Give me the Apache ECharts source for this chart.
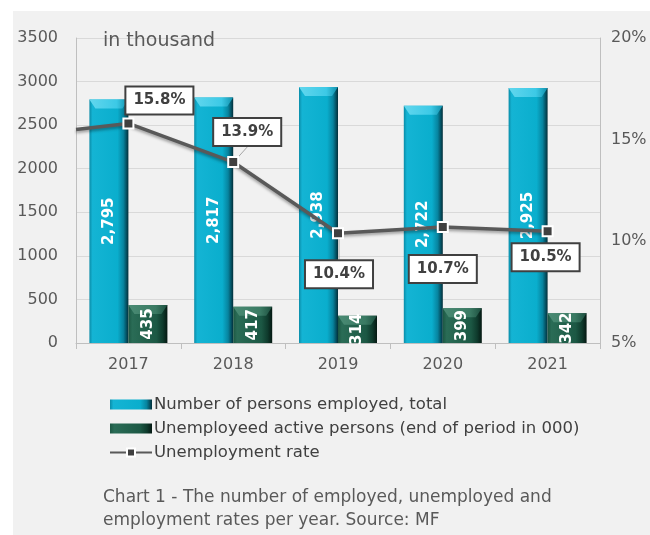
<!DOCTYPE html>
<html>
<head>
<meta charset="utf-8">
<script src="https://cdn.jsdelivr.net/npm/echarts@6/dist/echarts.min.js"></script>
<style>
  html, body { margin: 0; padding: 0; background: #ffffff; }
  #chart { width: 650px; height: 535px; }
</style>
</head>
<body>
<div id="chart"></div>
<script>
// Labour market figures per year (counts in thousand, rate in %)
const years = ['2017', '2018', '2019', '2020', '2021'];
const employed = [2795, 2817, 2938, 2722, 2925];
const unemployed = [435, 417, 314, 399, 342];
const rate = [15.8, 13.9, 10.4, 10.7, 10.5];
// rate carried in from the previous year at the left edge of the plot
const rateCarryIn = 15.5;

const leftTicks = { min: 0, max: 3500, interval: 500 };
const rightTicks = { min: 5, max: 20, interval: 5 };

const seriesNames = [
  'Number of persons employed, total',
  'Unemployeed active persons (end of period in 000)',
  'Unemployment rate'
];

// label box shifts for the rate callouts (px, relative to the point)
const calloutShift = [[31, -23], [14, -30], [1, 41], [0, 42], [-2, 26]];
// which callouts get a thin leader line back to their point
const calloutLeader = [false, true, true, false, false];

const FONT = 'DejaVu Sans';
const TEXT = '#595959';

const blueFill = {
  type: 'linear', x: 0, y: 0, x2: 1, y2: 0,
  colorStops: [
    { offset: 0, color: '#0a8ca8' },
    { offset: 0.08, color: '#14b4d4' },
    { offset: 0.72, color: '#0aaecd' },
    { offset: 0.87, color: '#07849f' },
    { offset: 1, color: '#022f3a' }
  ]
};
const greenFill = {
  type: 'linear', x: 0, y: 0, x2: 1, y2: 0,
  colorStops: [
    { offset: 0, color: '#1c5743' },
    { offset: 0.1, color: '#2a6c56' },
    { offset: 0.72, color: '#1c5844' },
    { offset: 0.88, color: '#0f3b2d' },
    { offset: 1, color: '#051812' }
  ]
};
const blueBevel = { type: 'linear', x: 0, y: 0, x2: 1, y2: 0,
  colorStops: [{ offset: 0, color: '#62d7ee' }, { offset: 0.7, color: '#3cc9e6' }, { offset: 1, color: '#0f8fab' }] };
const greenBevel = { type: 'linear', x: 0, y: 0, x2: 1, y2: 0,
  colorStops: [{ offset: 0, color: '#4a8b74' }, { offset: 0.7, color: '#3a7a63' }, { offset: 1, color: '#1c4e3e' }] };

const BAR_W = 39;
const BEVEL_H = 9;

// one bevelled bar: body, lighter top chamfer, then the rotated value on top of both
function bevelBar(side, fill, topFill) {
  return function (params, api) {
    const idx = api.value(0);
    const val = api.value(1);
    const top = api.coord([idx, val]);
    const base = api.coord([idx, 0]);
    const x = side < 0 ? top[0] - BAR_W : top[0];
    const h = base[1] - top[1];
    const bh = Math.min(BEVEL_H, h);
    const inset = 6 * bh / BEVEL_H;
    return {
      type: 'group',
      children: [
        { type: 'rect', shape: { x: x, y: top[1], width: BAR_W, height: h }, style: { fill: fill } },
        { type: 'polygon', shape: { points: [[x, top[1]], [x + BAR_W, top[1]], [x + BAR_W - inset, top[1] + bh], [x + inset, top[1] + bh]] },
          style: { fill: topFill } },
        { type: 'text', x: x + BAR_W / 2, y: (top[1] + base[1]) / 2, rotation: Math.PI / 2,
          style: { text: val.toLocaleString('en-US'), fill: '#ffffff', font: 'bold 15px "DejaVu Sans"',
            align: 'center', verticalAlign: 'middle' } }
      ]
    };
  };
}

const rateData = [{ value: [-0.5, rateCarryIn], symbol: 'none', label: { show: false } }]
  .concat(rate.map((v, i) => ({ value: [i, v], labelLine: { show: calloutLeader[i] } })));

const chart = echarts.init(document.getElementById('chart'), null, { renderer: 'canvas' });

chart.setOption({
  animation: false,
  backgroundColor: '#ffffff',
  textStyle: { fontFamily: FONT },
  graphic: [
    { type: 'rect', z: -10, silent: true, shape: { x: 13, y: 11, width: 637, height: 524 }, style: { fill: '#f1f1f1' } },
    { type: 'text', left: 103, top: 32, z: 10, style: { text: 'in thousand', font: '19px "DejaVu Sans"', fill: TEXT } },
    { type: 'text', left: 103, top: 486, style: {
        text: 'Chart 1 - The number of employed, unemployed and\nemployment rates per year. Source: MF',
        font: '17px "DejaVu Sans"', fill: TEXT, lineHeight: 23 } }
  ],
  grid: { left: 76, right: 50, top: 38, bottom: 192, containLabel: false },
  legend: {
    orient: 'vertical', left: 104, top: 391,
    itemWidth: 42, itemHeight: 10, itemGap: 7,
    data: [
      { name: seriesNames[0], icon: 'rect' },
      { name: seriesNames[1], icon: 'rect' },
      { name: seriesNames[2] }
    ],
    textStyle: { fontFamily: FONT, fontSize: 16.5, color: '#404040', padding: [0, 0, 0, -3] }
  },
  xAxis: [
    {
      type: 'category', data: years,
      axisLine: { onZero: false, lineStyle: { color: '#bfbfbf', width: 1 } },
      axisTick: { show: true, length: 6, lineStyle: { color: '#bfbfbf' } },
      axisLabel: { color: TEXT, fontSize: 16, margin: 14, fontFamily: FONT }
    },
    { type: 'value', min: -0.5, max: 4.5, show: false, splitLine: { show: false }, axisLine: { show: false, onZero: false } }
  ],
  yAxis: [
    {
      type: 'value', min: leftTicks.min, max: leftTicks.max, interval: leftTicks.interval,
      axisLine: { show: true, onZero: false, lineStyle: { color: '#bfbfbf' } },
      axisTick: { show: false },
      splitLine: { lineStyle: { color: '#d9d9d9' } },
      axisLabel: { color: TEXT, fontSize: 16, margin: 18, fontFamily: FONT, formatter: v => String(v) }
    },
    {
      type: 'value', min: rightTicks.min, max: rightTicks.max, interval: rightTicks.interval,
      position: 'right',
      axisLine: { show: true, onZero: false, lineStyle: { color: '#bfbfbf' } },
      axisTick: { show: false },
      splitLine: { show: false },
      axisLabel: { color: TEXT, fontSize: 16, margin: 11, fontFamily: FONT, formatter: '{value}%' }
    }
  ],
  series: [
    {
      name: seriesNames[0], type: 'custom', z: 2,
      data: employed.map((v, i) => [i, v]),
      encode: { x: 0, y: 1 },
      itemStyle: { color: blueFill },
      renderItem: bevelBar(-1, blueFill, blueBevel)
    },
    {
      name: seriesNames[1], type: 'custom', z: 2,
      data: unemployed.map((v, i) => [i, v]),
      encode: { x: 0, y: 1 },
      itemStyle: { color: greenFill },
      renderItem: bevelBar(1, greenFill, greenBevel)
    },
    {
      name: seriesNames[2], type: 'line', data: rateData,
      xAxisIndex: 1, yAxisIndex: 1, z: 5,
      lineStyle: { color: '#595959', width: 3.5, shadowColor: 'rgba(0,0,0,0.35)', shadowBlur: 3, shadowOffsetY: 2 },
      symbol: 'rect', symbolSize: 10, showAllSymbol: true,
      itemStyle: { color: '#404040', borderColor: '#ffffff', borderWidth: 2 },
      label: {
        show: true, position: 'inside',
        formatter: p => p.value[1].toFixed(1) + '%',
        color: '#404040', fontSize: 15, fontWeight: 'bold', fontFamily: FONT,
        backgroundColor: '#ffffff', borderColor: '#404040', borderWidth: 2,
        padding: [6, 7, 5, 7]
      },
      labelLine: { show: false, lineStyle: { color: '#a6a6a6', width: 1 } },
      labelLayout: p => {
        const s = calloutShift[p.dataIndex - 1];
        return s ? { dx: s[0], dy: s[1] } : {};
      }
    }
  ]
});
</script>
</body>
</html>
